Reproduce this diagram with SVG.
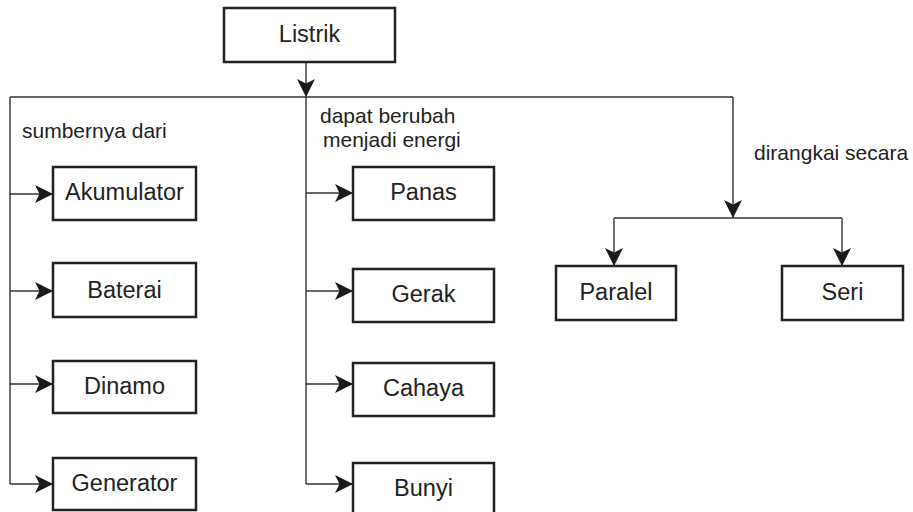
<svg xmlns="http://www.w3.org/2000/svg" width="913" height="512" viewBox="0 0 913 512">
<style>
.box{fill:#fff;stroke:#222;stroke-width:2.5}
.lbl{font-family:"Liberation Sans",Arial,sans-serif;font-size:23.5px;fill:#222;text-anchor:middle}
.note{font-family:"Liberation Sans",Arial,sans-serif;font-size:21px;fill:#222}
.con{fill:none;stroke:#333;stroke-width:1.4}
</style>
<defs>
<marker id="arr" markerUnits="userSpaceOnUse" markerWidth="18" markerHeight="18" viewBox="0 0 16 16" refX="16" refY="8" orient="auto">
<path d="M0,0 L16,8 L0,16 L4,8 z" fill="#1a1a1a"/>
</marker>
</defs>
<rect width="913" height="512" fill="#fff"/>
<g id="connectors">
<path class="con" d="M306,62 V97" marker-end="url(#arr)"/>
<path class="con" d="M10,97 H733"/>
<path class="con" d="M10,97 V484"/>
<path class="con" d="M10,194 H53" marker-end="url(#arr)"/>
<path class="con" d="M10,291 H53" marker-end="url(#arr)"/>
<path class="con" d="M10,384 H53" marker-end="url(#arr)"/>
<path class="con" d="M10,484 H53" marker-end="url(#arr)"/>
<path class="con" d="M306,97 V484"/>
<path class="con" d="M306,193 H353" marker-end="url(#arr)"/>
<path class="con" d="M306,291 H353" marker-end="url(#arr)"/>
<path class="con" d="M306,384 H353" marker-end="url(#arr)"/>
<path class="con" d="M306,484 H353" marker-end="url(#arr)"/>
<path class="con" d="M733,97 V218" marker-end="url(#arr)"/>
<path class="con" d="M614,218 H842"/>
<path class="con" d="M614,218 V266" marker-end="url(#arr)"/>
<path class="con" d="M842,218 V266" marker-end="url(#arr)"/>
</g>
<g id="n-listrik"><rect class="box" x="224" y="8" width="171" height="54"/><text class="lbl" x="309.5" y="42">Listrik</text></g>
<g id="n-akumulator"><rect class="box" x="53" y="167" width="143" height="53"/><text class="lbl" x="124.5" y="200">Akumulator</text></g>
<g id="n-baterai"><rect class="box" x="53" y="263" width="143" height="54"/><text class="lbl" x="124.5" y="298">Baterai</text></g>
<g id="n-dinamo"><rect class="box" x="53" y="361" width="143" height="52"/><text class="lbl" x="124.5" y="394">Dinamo</text></g>
<g id="n-generator"><rect class="box" x="53" y="458" width="143" height="52"/><text class="lbl" x="124.5" y="491">Generator</text></g>
<g id="n-panas"><rect class="box" x="353" y="167" width="141" height="53"/><text class="lbl" x="423.5" y="200">Panas</text></g>
<g id="n-gerak"><rect class="box" x="353" y="269" width="141" height="53"/><text class="lbl" x="423.5" y="302">Gerak</text></g>
<g id="n-cahaya"><rect class="box" x="353" y="363" width="141" height="53"/><text class="lbl" x="423.5" y="396">Cahaya</text></g>
<g id="n-bunyi"><rect class="box" x="353" y="463" width="141" height="60"/><text class="lbl" x="423.5" y="496">Bunyi</text></g>
<g id="n-paralel"><rect class="box" x="556" y="266" width="120" height="54"/><text class="lbl" x="616" y="300">Paralel</text></g>
<g id="n-seri"><rect class="box" x="782" y="266" width="121" height="54"/><text class="lbl" x="842.5" y="300">Seri</text></g>
<g id="labels">
<text class="note" x="22" y="138">sumbernya dari</text>
<text class="note" x="320" y="123">dapat berubah</text>
<text class="note" x="323" y="147">menjadi energi</text>
<text class="note" x="754" y="160">dirangkai secara</text>
</g>
</svg>
